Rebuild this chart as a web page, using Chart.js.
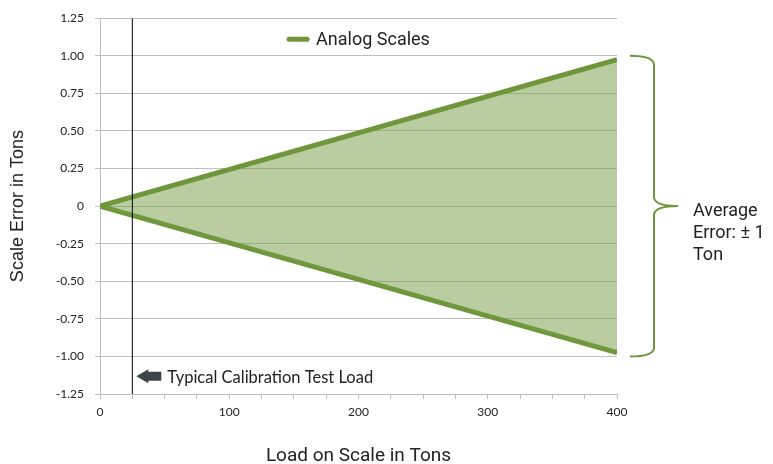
<!DOCTYPE html>
<html>
<head>
<meta charset="utf-8">
<script src="https://cdn.jsdelivr.net/npm/chart.js@4.4.1/dist/chart.umd.min.js"></script>
<style>
  html, body { margin: 0; padding: 0; background: #fff; }
  #wrap { width: 773px; height: 464px; position: relative; }
</style>
</head>
<body>
<div id="wrap"><canvas id="myChart"></canvas></div>
<script>
// data
var loads = [0, 400];
var upperError = [0, 0.975];
var lowerError = [0, -0.975];
var calibLoad = 25;
var yRange = [-1.25, 1.25];
var braceRange = [-1, 1];

var green = '#70963c';
var fillGreen = 'rgba(115, 155, 67, 0.5)';
var gridGray = '#bfbfbf';

function pts(xs, ys) {
    return xs.map(function (x, i) { return { x: x, y: ys[i] }; });
}

// legend, brace, arrow note
var notes = {
    id: 'notes',
    afterDraw: function (chart) {
        var ctx = chart.ctx;
        var xs = chart.scales.x, ys = chart.scales.y;
        var area = chart.chartArea;
        ctx.save();

        // legend inside plot
        var cx = (area.left + area.right) / 2;
        var ly = area.top + 21;
        ctx.font = '18px Roboto';
        var label = 'Analog Scales';
        var tw = ctx.measureText(label).width;
        var x0 = cx - (22 + 7 + tw) / 2;
        ctx.strokeStyle = green;
        ctx.lineWidth = 5;
        ctx.lineCap = 'round';
        ctx.beginPath();
        ctx.moveTo(x0 + 2, ly);
        ctx.lineTo(x0 + 20, ly);
        ctx.stroke();
        ctx.fillStyle = '#222';
        ctx.textBaseline = 'middle';
        ctx.textAlign = 'left';
        ctx.fillText(label, x0 + 29, ly + 1);

        // brace
        var xe = xs.getPixelForValue(loads[loads.length - 1]);
        var yt = ys.getPixelForValue(braceRange[1]);
        var yb = ys.getPixelForValue(braceRange[0]);
        var ym = (yt + yb) / 2;
        var bx0 = xe + 13, bx1 = xe + 37, bx2 = xe + 61, r = 9;
        ctx.lineWidth = 2;
        ctx.lineCap = 'butt';
        ctx.beginPath();
        ctx.moveTo(bx0, yt);
        ctx.quadraticCurveTo(bx1, yt, bx1, yt + r);
        ctx.lineTo(bx1, ym - r);
        ctx.quadraticCurveTo(bx1, ym, bx2, ym);
        ctx.quadraticCurveTo(bx1, ym, bx1, ym + r);
        ctx.lineTo(bx1, yb - r);
        ctx.quadraticCurveTo(bx1, yb, bx0, yb);
        ctx.stroke();

        ctx.font = '18px Roboto';
        ctx.fillStyle = '#222';
        ctx.fillText('Average', bx2 + 15, ym + 5);
        ctx.fillText('Error: \u00b1 1', bx2 + 15, ym + 27);
        ctx.fillText('Ton', bx2 + 15, ym + 49);

        // arrow + note
        var ax = xs.getPixelForValue(calibLoad) + 4;
        var ay = ys.getPixelForValue(-1.125) + 1;
        ctx.fillStyle = '#3d4647';
        ctx.beginPath();
        ctx.moveTo(ax, ay);
        ctx.lineTo(ax + 12, ay - 7);
        ctx.lineTo(ax + 12, ay - 4.5);
        ctx.lineTo(ax + 25, ay - 4.5);
        ctx.lineTo(ax + 25, ay + 4.5);
        ctx.lineTo(ax + 12, ay + 4.5);
        ctx.lineTo(ax + 12, ay + 7);
        ctx.closePath();
        ctx.fill();
        ctx.font = '16.5px Lato';
        ctx.fillStyle = '#222';
        ctx.fillText('Typical Calibration Test Load', ax + 31, ay + 1);

        ctx.restore();
    }
};

var ctx = document.getElementById('myChart').getContext('2d');
var myChart = new Chart(ctx, {
    type: 'scatter',
    data: {
        datasets: [{
            label: 'Analog Scales',
            data: pts(loads, upperError),
            showLine: true,
            borderColor: green,
            borderWidth: 5,
            pointRadius: 0,
            fill: '+1',
            backgroundColor: fillGreen,
            order: 1
        }, {
            label: 'Analog Scales lower',
            data: pts(loads, lowerError),
            showLine: true,
            borderColor: green,
            borderWidth: 5,
            pointRadius: 0,
            fill: false,
            order: 1
        }, {
            label: 'Calibration load',
            data: pts([calibLoad, calibLoad], yRange),
            showLine: true,
            borderColor: '#000',
            borderWidth: 1,
            pointRadius: 0,
            fill: false,
            order: 0
        }]
    },
    options: {
        responsive: true,
        maintainAspectRatio: false,
        animation: false,
        layout: { padding: { left: 0, right: 156, top: 18, bottom: 0 } },
        plugins: {
            legend: { display: false },
            tooltip: { enabled: false }
        },
        scales: {
            x: {
                type: 'linear',
                min: 0,
                max: 400,
                afterFit: function (s) { s.height = 70; },
                grid: { drawOnChartArea: false, color: gridGray, tickLength: 5 },
                border: { color: gridGray },
                ticks: {
                    stepSize: 25,
                    autoSkip: false,
                    maxRotation: 0,
                    padding: 6,
                    color: '#222',
                    font: { family: 'Lato', size: 12 },
                    callback: function (v) { return v % 100 === 0 ? v : ''; }
                },
                title: {
                    display: true,
                    text: 'Load on Scale in Tons',
                    color: '#222',
                    font: { family: 'Roboto', size: 19, lineHeight: 0.8 },
                    padding: { top: 0, bottom: 0 }
                }
            },
            y: {
                min: yRange[0],
                max: yRange[1],
                afterFit: function (s) { s.width = 100; },
                grid: { color: gridGray, tickLength: 5 },
                border: { color: gridGray },
                ticks: {
                    stepSize: 0.25,
                    padding: 11,
                    color: '#222',
                    font: { family: 'Lato', size: 12 },
                    callback: function (v) { return v === 0 ? '0' : v.toFixed(2); }
                },
                title: {
                    display: true,
                    text: 'Scale Error in Tons',
                    color: '#222',
                    font: { family: 'Liberation Sans', size: 18 },
                    padding: { top: 7, bottom: 0 }
                }
            }
        }
    },
    plugins: [notes]
});
</script>
</body>
</html>
